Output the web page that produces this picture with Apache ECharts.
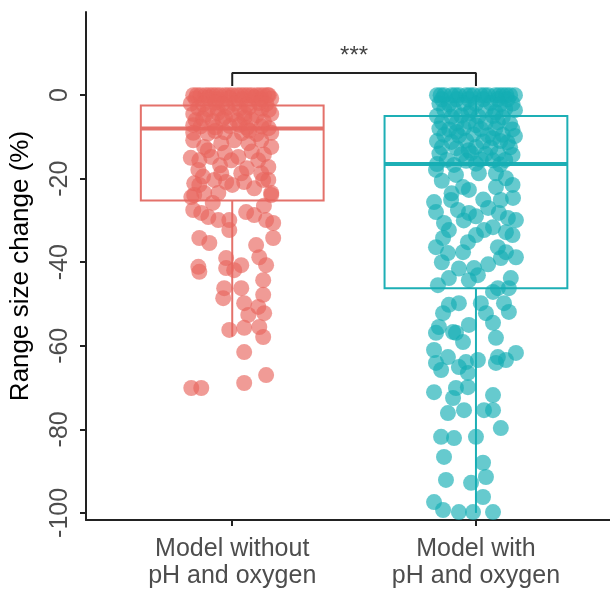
<!DOCTYPE html>
<html>
<head>
<meta charset="UTF-8" />
<title>Range size change</title>
<style type="text/css">
body,html{margin:0;padding:0;border:0;width:100%;height:100%;overflow:hidden;background:#fff;}
</style>
<script src="https://cdn.jsdelivr.net/npm/echarts@6/dist/echarts.min.js"></script>
<script type="text/javascript">
var categories = ['Model without\npH and oxygen', 'Model with\npH and oxygen'];
var yTicks = [0, -20, -40, -60, -80, -100];
// [lower whisker, Q1, median, Q3, upper whisker]
var statsWithout = [-57.8, -25.2, -8.0, -2.5, 0];
var statsWith = [-100, -46.2, -16.5, -5.0, 0];
var bracket = [[1, 2.2], [1, 5.3], [2, 5.3], [2, 2.2]];
var signif = '***';

// jittered points [x, value]
var ptsWithout = [
  [0.84,0],[0.87,0],[0.89,0],[0.92,0],[0.95,0],[0.97,0],[1.0,0],[1.02,0],[1.05,0],[1.08,0],[1.1,0],[1.13,0],[1.15,0],
  [0.855,0],[0.905,0],[0.935,0],[0.985,0],[1.035,0],[1.065,0],[1.115,0],[1.145,0],
  [0.85,-0.8],[0.9,-0.6],[0.94,-1],[0.99,-0.7],[1.04,-0.9],[1.09,-0.5],[1.12,-1],[1.16,-0.8],
  [0.83,-2],[0.88,-2.2],[0.93,-1.8],[0.96,-2.1],[1.01,-2],[1.06,-2.3],[1.11,-1.9],[1.14,-2.1],
  [0.86,-3.1],[0.9,-3.4],[0.98,-3],[1.03,-3.3],[1.07,-2.9],[1.12,-3.2],[1.15,-3.5],[0.94,-3.2],
  [0.84,-4.5],[0.89,-4.7],[0.94,-4.3],[1.0,-4.6],[1.05,-4.4],[1.1,-4.8],[1.16,-4.5],[0.97,-5.2],
  [0.85,-6],[0.92,-6.2],[0.96,-5.8],[1.02,-6.1],[1.08,-5.9],[1.13,-6.3],[0.88,-5.6],[1.05,-5.4],
  [0.87,-7.5],[0.93,-7.7],[0.99,-7.4],[1.06,-7.8],[1.12,-7.5],[1.15,-7.9],[0.84,-7.2],[1.03,-7.1],
  [0.84,-9],[0.9,-9.2],[0.97,-8.9],[1.04,-9.1],[1.1,-9.3],[1.16,-9],[1.07,-8.5],[0.93,-8.6],
  [0.84,-10.8],[0.885,-12.4],[0.955,-11.5],[1.008,-10.8],[1.066,-11.5],[1.119,-10.8],[1.16,-12.4],
  [0.9,-13.2],[0.97,-13.8],[1.13,-14.2],[0.83,-15],[0.95,-16.8],[1.06,-17.5],[0.88,-19.5],[1.0,-21.5],
  [1.09,-22.3],[0.92,-25.8],[1.13,-26.5],[0.84,-27.5],
  [0.865,-15.6],[0.914,-14.8],[0.996,-15.6],[1.025,-14.8],[1.107,-15.6],[1.148,-17.2],[1.08,-13.5],
  [0.861,-17.9],[0.955,-18.7],[1.037,-18.7],[1.119,-18.7],[0.844,-21.1],[0.926,-20.3],[1.148,-20.3],
  [0.832,-24.4],[0.885,-23.4],[1.16,-23.4],
  [0.865,-21.5],[0.975,-20.8],[1.049,-20.8],[1.127,-20.3],[0.844,-23.9],[0.943,-23.4],[1.16,-23.9],
  [0.873,-28.2],[0.902,-29.2],[0.943,-29.9],[0.988,-29.9],[1.057,-28.0],[1.09,-28.7],[1.139,-29.9],[1.168,-30.6],
  [0.865,-34.2],[0.906,-35.4],[0.988,-32.3],[1.098,-35.9],[1.168,-34.2],
  [0.975,-39.0],[1.037,-40.7],[1.111,-38.8],[1.139,-40.7],[0.861,-41.1],[0.865,-42.3],[0.975,-41.4],[1.008,-41.9],
  [1.127,-44.3],[0.967,-46.2],[1.037,-46.2],[0.963,-48.6],[1.127,-47.8],[1.049,-49.8],[1.107,-50.7],
  [1.066,-52.6],[1.131,-52.2],[0.988,-56.2],[1.049,-55.7],[1.111,-55.5],[1.127,-57.9],
  [1.049,-61.5],[1.139,-67.0],[1.049,-68.9],[0.832,-70.1],[0.873,-70.1]
];
var ptsWith = [
  [1.84,0],[1.87,0],[1.9,0],[1.93,0],[1.96,0],[1.99,0],[2.02,0],[2.05,0],[2.08,0],[2.11,0],[2.14,0],[2.16,0],
  [1.855,0],[1.915,0],[1.975,0],[2.035,0],[2.095,0],[2.125,0],
  [1.86,-1],[1.92,-1],[1.97,-1],[2.03,-1],[2.09,-1],[2.13,-1],
  [1.85,-2],[1.89,-2.2],[1.95,-2],[2.0,-2.1],[2.06,-1.9],[2.1,-2.2],[2.15,-2],
  [1.87,-3.5],[1.91,-3.4],[1.98,-3.6],[2.04,-3.5],[2.12,-3.3],[2.16,-3.6],[2.08,-4.1],
  [1.84,-5],[1.9,-5.2],[1.94,-4.9],[2.01,-5.1],[2.07,-5],[2.11,-5.3],[1.97,-4.4],
  [1.86,-6.5],[1.92,-6.7],[1.97,-6.4],[2.04,-6.6],[2.09,-6.5],[2.14,-6.8],[2.0,-7.2],
  [1.85,-8],[1.89,-8.2],[1.95,-7.9],[2.02,-8.1],[2.08,-8],[2.15,-8.2],[1.92,-8.8],
  [1.87,-9.5],[1.93,-9.7],[1.99,-9.4],[2.05,-9.6],[2.11,-9.5],[2.16,-9.8],[2.07,-10.3],
  [1.84,-11],[1.9,-11.2],[1.96,-10.9],[2.03,-11.1],[2.1,-11],[2.13,-11.3],
  [1.86,-12.5],[1.92,-12.7],[2.0,-12.4],[2.06,-12.6],[2.14,-12.5],[1.97,-13.2],
  [1.85,-14],[1.94,-14.2],[1.98,-13.9],[2.04,-14.1],[2.09,-14],[2.15,-14.3],
  [1.88,-15.5],[1.96,-15.7],[2.02,-15.4],[2.07,-15.6],[2.12,-15.5],
  [1.84,-16.5],[1.91,-16.7],[2.0,-16.4],[2.1,-16.6],
  [1.86,-20.5],[2.15,-21.5],[1.9,-23.5],[2.03,-25],[2.05,-27],[1.95,-30],[2.0,-29],[1.86,-40],
  [2.15,-33.5],[1.93,-41.5],[2.05,-40.5],
  [1.836,-17.9],[1.918,-19.1],[2.012,-18.7],[2.082,-18.7],[2.123,-19.9],[1.947,-22.0],[1.971,-22.7],[2.082,-22.0],
  [1.828,-25.6],[1.898,-25.1],[1.926,-27.5],[1.971,-28.2],[2.102,-25.1],[2.152,-24.6],[1.836,-28.0],[2.094,-28.2],
  [2.131,-29.4],[2.164,-29.9],[1.869,-30.6],[1.889,-32.3],[2.033,-32.3],[2.07,-31.6],[2.123,-32.8],[1.865,-34.2],
  [1.967,-35.2],[2.0,-33.5],[1.836,-36.4],[1.885,-37.8],[1.947,-37.6],[2.09,-36.4],[2.123,-37.6],[2.102,-39.0],
  [2.164,-38.8],[1.992,-41.4],[2.008,-43.1],[1.971,-44.3],[1.889,-43.8],[1.844,-45.5],[2.143,-43.8],[2.09,-46.2],
  [2.135,-46.2],[2.07,-47.1],[1.889,-50.2],[1.93,-49.8],[2.02,-49.8],[2.115,-49.8],[1.865,-52.2],[2.041,-52.2],
  [2.135,-51.9],[1.848,-55.5],[1.971,-55.0],[2.07,-54.5],[1.918,-56.9],[1.836,-56.9],[1.906,-56.7],[1.947,-59.1],
  [2.082,-58.1],[1.828,-61.0],[1.885,-62.7],[1.959,-63.9],[1.836,-64.1],[1.93,-65.1],[1.857,-65.8],[2.008,-63.4],
  [2.09,-62.7],[2.164,-61.7],[2.123,-63.4],[2.082,-64.1],[1.967,-66.5],[1.828,-71.1],[1.918,-70.1],[1.967,-69.9],
  [2.07,-71.8],[1.906,-72.5],[1.885,-76.1],[1.951,-75.4],[2.033,-75.4],[2.07,-75.4],[2.102,-79.7],[1.857,-81.8],
  [1.91,-82.1],[2.0,-81.8],[1.869,-86.6],[2.029,-88.0],[1.877,-92.1],[2.041,-91.4],[1.98,-92.8],[2.029,-96.2],
  [1.828,-97.4],[1.865,-99.3],[1.93,-99.8],[1.988,-99.8],[2.07,-99.8]
];

var boxColors = ['#E4716A', '#1DAFB5'];
var pointColors = ['#E8655D', '#14AEB4'];

window.onload = function(){ init(); };

function init()
{
	var chart = echarts.init(document.getElementById('chartContainer'));
	var boxData = [[1].concat(statsWithout), [2].concat(statsWith)];
	var boxWidth = 0.75;

	function renderBox(params, api)
	{
		var x = api.value(0);
		var lo = api.value(1), q1 = api.value(2), med = api.value(3), q3 = api.value(4), hi = api.value(5);
		var color = boxColors[params.dataIndex];
		var tl = api.coord([x - boxWidth / 2, q3]);
		var br = api.coord([x + boxWidth / 2, q1]);
		var mL = api.coord([x - boxWidth / 2, med]);
		var mR = api.coord([x + boxWidth / 2, med]);
		var wTop = api.coord([x, hi]), wQ3 = api.coord([x, q3]);
		var wQ1 = api.coord([x, q1]), wBot = api.coord([x, lo]);
		var st = { stroke: color, lineWidth: 2, fill: null };
		return {
			type: 'group',
			children: [
				{ type: 'line', shape: { x1: wTop[0], y1: wTop[1], x2: wQ3[0], y2: wQ3[1] }, style: st },
				{ type: 'line', shape: { x1: wQ1[0], y1: wQ1[1], x2: wBot[0], y2: wBot[1] }, style: st },
				{ type: 'rect', shape: { x: tl[0], y: tl[1], width: br[0] - tl[0], height: br[1] - tl[1] }, style: st },
				{ type: 'line', shape: { x1: mL[0], y1: mL[1], x2: mR[0], y2: mR[1] }, style: { stroke: color, lineWidth: 4 } }
			]
		};
	}

	var option = {
		animation: false,
		grid: { left: 86, top: 12, right: 0, bottom: 69, outerBoundsMode: 'none', containLabel: false },
		xAxis: {
			type: 'value', min: 0.4, max: 2.55,
			splitLine: { show: false },
			axisLine: { show: true, onZero: false, lineStyle: { color: '#222', width: 2 } },
			axisTick: { show: true, customValues: [1, 2], length: 6, lineStyle: { color: '#222', width: 2 } },
			axisLabel: {
				customValues: [1, 2],
				formatter: function(v){ return categories[Math.round(v) - 1]; },
				color: '#4D4D4D', fontSize: 25, lineHeight: 27, margin: 16,
				fontFamily: 'Liberation Sans'
			}
		},
		yAxis: {
			type: 'value', min: -101.7, max: 19.9,
			name: 'Range size change (%)', nameLocation: 'middle', nameGap: 52,
			nameTextStyle: { color: '#000', fontSize: 26, fontFamily: 'Liberation Sans' },
			splitLine: { show: false },
			axisLine: { show: true, onZero: false, lineStyle: { color: '#222', width: 2 } },
			axisTick: { show: true, customValues: yTicks, length: 6, lineStyle: { color: '#222', width: 2 } },
			axisLabel: {
				customValues: yTicks, rotate: 90, margin: 13,
				color: '#4D4D4D', fontSize: 25, fontFamily: 'Liberation Sans'
			}
		},
		series: [
			{
				type: 'custom', renderItem: renderBox, data: boxData, z: 1,
				encode: { x: 0, y: [1, 2, 3, 4, 5] }
			},
			{
				type: 'scatter', data: ptsWithout, symbolSize: 16, z: 2,
				itemStyle: { color: pointColors[0], opacity: 0.65 }
			},
			{
				type: 'scatter', data: ptsWith, symbolSize: 16, z: 2,
				itemStyle: { color: pointColors[1], opacity: 0.65 }
			},
			{
				type: 'line', data: bracket, symbol: 'none', z: 3,
				lineStyle: { color: '#222', width: 2 }
			},
			{
				type: 'scatter', data: [[1.5, 9.2]], symbolSize: 1, z: 3,
				itemStyle: { color: 'transparent' },
				label: { show: true, position: 'inside', formatter: signif, color: '#111', fontSize: 24, fontFamily: 'Liberation Sans' }
			}
		]
	};
	chart.setOption(option);
}
</script>
</head>
<body>
<div id="chartContainer" style="height:589px;width:610px;"></div>
</body>
</html>
